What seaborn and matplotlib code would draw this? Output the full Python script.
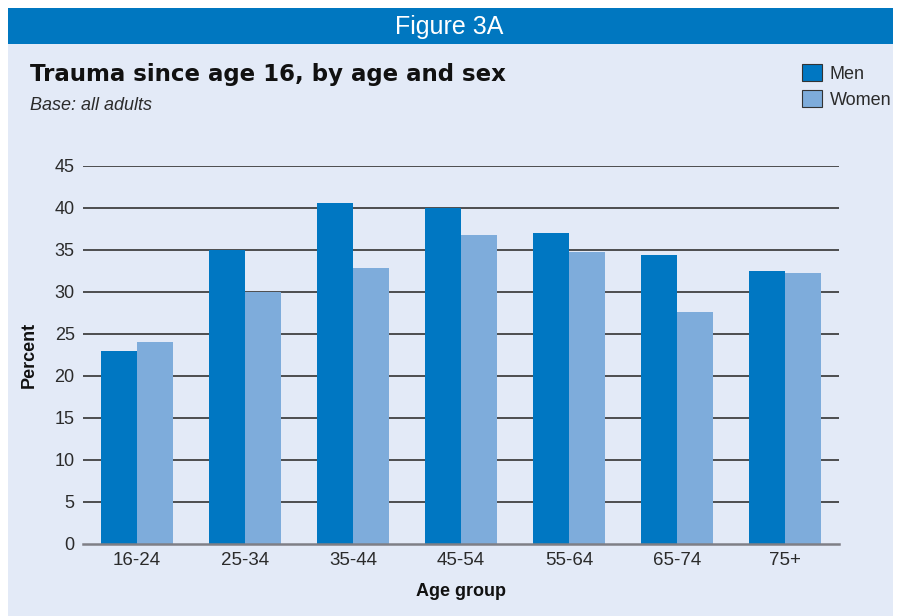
import matplotlib
matplotlib.use("Agg")
import matplotlib.pyplot as plt
import matplotlib.patches as mpatches
import seaborn as sns
import pandas as pd

age_groups = ["16-24", "25-34", "35-44", "45-54", "55-64", "65-74", "75+"]
men = [23, 35, 40.6, 40.0, 37.0, 34.4, 32.5]
women = [24.1, 30.0, 32.8, 36.8, 34.8, 27.6, 32.3]
series = ["Men", "Women"]
yticks = [0, 5, 10, 15, 20, 25, 30, 35, 40, 45]

df = pd.DataFrame({
    "Age group": age_groups * 2,
    "Percent": men + women,
    "Sex": ["Men"] * len(age_groups) + ["Women"] * len(age_groups),
})

sns.set_theme(style="white")
plt.rcParams["font.family"] = ["Liberation Sans", "DejaVu Sans"]

W, H = 901, 616
fig = plt.figure(figsize=(W / 100, H / 100), dpi=100)
fig.patch.set_facecolor("white")

bg = "#e3eaf7"
dark = "#0077c2"
light = "#7eacdb"
txt = "#2b2b2b"

# panel background and header bar
fig.patches.append(mpatches.Rectangle((8 / W, 0), (893 - 8) / W, (616 - 44) / H,
                                      transform=fig.transFigure, facecolor=bg,
                                      edgecolor="none", zorder=-2))
fig.patches.append(mpatches.Rectangle((8 / W, 1 - 44 / H), (893 - 8) / W, 36 / H,
                                      transform=fig.transFigure, facecolor="#0077c0",
                                      edgecolor="none", zorder=-2))
fig.text(449 / W, 1 - 27 / H, "Figure 3A", color="white", fontsize=18,
         ha="center", va="center")
fig.text(30 / W, 1 - 75 / H, "Trauma since age 16, by age and sex", color="#111111",
         fontsize=16.5, fontweight="bold", ha="left", va="center",
         family=["DejaVu Sans"])
fig.text(30 / W, 1 - 105 / H, "Base: all adults", color=txt, fontsize=13,
         style="italic", ha="left", va="center")

ax = fig.add_axes([83 / W, (H - 544) / H, 756 / W, (544 - 166) / H])
ax.set_facecolor("none")
ax.set_zorder(1)

sns.barplot(data=df, x="Age group", y="Percent", hue="Sex", order=age_groups,
            hue_order=series, palette=[dark, light], width=2 / 3, gap=0,
            saturation=1, ax=ax, legend=True, zorder=3,
            edgecolor="none", linewidth=0)

ax.set_ylim(0, 45)
ax.set_xlim(-0.5, len(age_groups) - 0.5)
ax.set_yticks(yticks)
ax.set_yticklabels([str(v) for v in yticks], fontsize=13, color=txt)
for t in ax.get_xticklabels():
    t.set_fontsize(13.5)
    t.set_color(txt)
for v in yticks[1:]:
    ax.axhline(v, color="#333333", linewidth=1.2, zorder=1)
ax.tick_params(axis="y", length=0, pad=6)
ax.tick_params(axis="x", length=0, pad=6)
for s in ["top", "right", "left"]:
    ax.spines[s].set_visible(False)
ax.spines["bottom"].set_color("#7f7f86")
ax.spines["bottom"].set_linewidth(1.8)
ax.spines["bottom"].set_zorder(4)

ax.set_ylabel("Percent", fontsize=13, fontweight="bold", color="#111111", labelpad=12)
ax.set_xlabel("Age group", fontsize=13, fontweight="bold", color="#111111", labelpad=10)

handles, labels = ax.get_legend_handles_labels()
ax.get_legend().remove()
for h in handles:
    h.set_edgecolor("#333333")
    h.set_linewidth(0.8)
fig.legend(handles, labels, loc="upper left",
           bbox_to_anchor=(802 / W, 1 - 64 / H), frameon=False, fontsize=13,
           handlelength=1.1, handleheight=1.1, handletextpad=0.45,
           labelspacing=0.4, borderaxespad=0, borderpad=0, labelcolor=txt)

fig.savefig("out.png", dpi=100, facecolor=fig.get_facecolor())
